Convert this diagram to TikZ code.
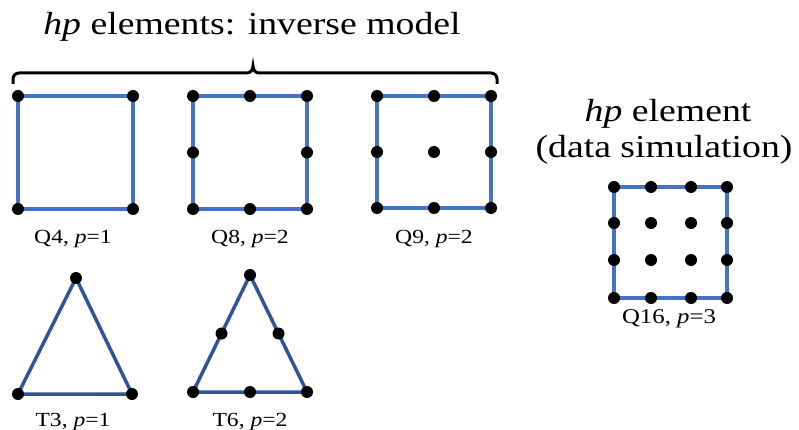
\documentclass[tikz,border=0pt]{standalone}
\usepackage{fontspec}
\setmainfont{Liberation Serif}[FakeStretch=1.18]
\usetikzlibrary{calc}
\definecolor{sqblue}{HTML}{4472C4}
\definecolor{triblue}{HTML}{2F5597}
\tikzset{
  sqedge/.style={draw=sqblue, line width=3.5pt, line join=miter},
  triedge/.style={draw=triblue, line width=3.5pt, line join=round},
  dot/.style={circle, fill=black, inner sep=0pt, minimum size=12pt},
  lbl/.style={font=\fontsize{20}{24}\selectfont, anchor=base},
  biglbl/.style={font=\fontsize{21}{24}\selectfont, anchor=base},
  ttl/.style={font=\fontsize{32}{38}\selectfont, anchor=base},
  bracestyle/.style={draw=black, line width=3pt, line cap=butt}
}
\begin{document}
\begin{tikzpicture}[x=1pt,y=1pt]
\useasboundingbox (0,0) rectangle (799,-430);
% title
\node[ttl] (title) at (252,-35) {\textit{hp} elements: inverse model};
% brace
\coordinate (bl) at (13,-84);
\coordinate (br) at (497,-84);
\coordinate (bt) at (253,-66);
\draw[bracestyle] (bl) -- (13,-79) to[out=90,in=180] (19,-73) -- (247,-73) to[out=0,in=-90] (bt)
  to[out=-90,in=180] (259,-73) -- (491,-73) to[out=0,in=90] (497,-79) -- (br);
% Q4
\coordinate (q4a) at (18,-96);  \coordinate (q4b) at (133,-96);
\coordinate (q4c) at (133,-209); \coordinate (q4d) at (18,-209);
\draw[sqedge] (q4a) -- (q4b) -- (q4c) -- (q4d) -- cycle;
\foreach \p in {q4a,q4b,q4c,q4d} \node[dot] (d\p) at (\p) {};
\node[lbl] (lq4) at (73,-243) {Q4, \textit{p}=1};
% Q8
\coordinate (q8a) at (193,-96);  \coordinate (q8b) at (307,-96);
\coordinate (q8c) at (307,-209); \coordinate (q8d) at (193,-209);
\draw[sqedge] (q8a) -- (q8b) -- (q8c) -- (q8d) -- cycle;
\foreach \p in {q8a,q8b,q8c,q8d} \node[dot] (d\p) at (\p) {};
\node[dot] (q8t) at (250,-96) {};
\node[dot] (q8r) at (307,-152.5) {};
\node[dot] (q8bm) at (250,-209) {};
\node[dot] (q8l) at (193,-152.5) {};
\node[lbl] (lq8) at (250,-243) {Q8, \textit{p}=2};
% Q9
\coordinate (q9a) at (377,-96);  \coordinate (q9b) at (491,-96);
\coordinate (q9c) at (491,-208); \coordinate (q9d) at (377,-208);
\draw[sqedge] (q9a) -- (q9b) -- (q9c) -- (q9d) -- cycle;
\foreach \p in {q9a,q9b,q9c,q9d} \node[dot] (d\p) at (\p) {};
\node[dot] (q9t) at (434,-96) {};
\node[dot] (q9r) at (491,-152) {};
\node[dot] (q9bm) at (434,-208) {};
\node[dot] (q9l) at (377,-152) {};
\node[dot] (q9m) at (434,-152) {};
\node[lbl] (lq9) at (434,-243) {Q9, \textit{p}=2};
% Q16
\node[ttl] (t2a) at (668,-122) {\textit{hp} element};
\node[ttl] (t2b) at (664,-158) {(data simulation)};
\coordinate (q16a) at (614,-187);  \coordinate (q16b) at (727,-187);
\coordinate (q16c) at (727,-298); \coordinate (q16d) at (614,-298);
\draw[sqedge] (q16a) -- (q16b) -- (q16c) -- (q16d) -- cycle;
\foreach \x [count=\i] in {614,651,691,727}
  \foreach \y [count=\j] in {187,223,260,298}
    \node[dot] (q16-\i-\j) at (\x,-\y) {};
\node[biglbl] (lq16) at (669,-323) {Q16, \textit{p}=3};
% T3
\coordinate (t3a) at (76,-278); \coordinate (t3b) at (18,-394); \coordinate (t3c) at (132,-394);
\draw[triedge] (t3a) -- (t3b) -- (t3c) -- cycle;
\foreach \p in {t3a,t3b,t3c} \node[dot] (d\p) at (\p) {};
\node[lbl] (lt3) at (73,-426) {T3, \textit{p}=1};
% T6
\coordinate (t6a) at (250,-275); \coordinate (t6b) at (193,-392); \coordinate (t6c) at (307,-392);
\draw[triedge] (t6a) -- (t6b) -- (t6c) -- cycle;
\foreach \p in {t6a,t6b,t6c} \node[dot] (d\p) at (\p) {};
\node[dot] (t6l) at ($(t6a)!0.5!(t6b)$) {};
\node[dot] (t6r) at ($(t6a)!0.5!(t6c)$) {};
\node[dot] (t6m) at ($(t6b)!0.5!(t6c)$) {};
\node[lbl] (lt6) at (250,-426) {T6, \textit{p}=2};
\end{tikzpicture}
\end{document}
